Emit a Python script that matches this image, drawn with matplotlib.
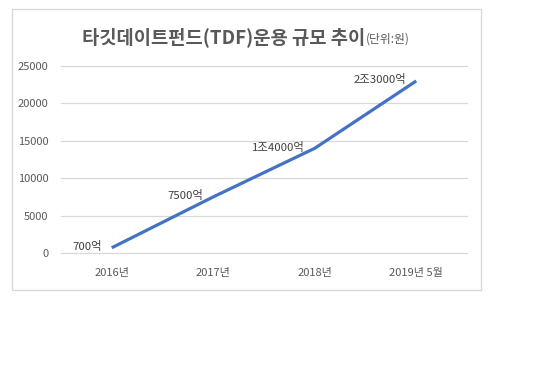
import matplotlib.pyplot as plt
from matplotlib.patches import Rectangle

plt.rcParams['font.family'] = ['Noto Sans CJK KR', 'DejaVu Sans']

# data
categories = ['2016년', '2017년', '2018년', '2019년 5월']
values = [700, 7500, 14000, 23000]
point_labels = ['700억', '7500억', '1조4000억', '2조3000억']
yticks = [0, 5000, 10000, 15000, 20000, 25000]

W, H = 540, 392
fig = plt.figure(figsize=(W / 100, H / 100), dpi=100)

# outer chart frame
fig.patches.append(Rectangle((12 / W, 1 - 290 / H), (481 - 12) / W, (290 - 9) / H,
                             transform=fig.transFigure, fill=False,
                             edgecolor='#d9d9d9', lw=1.0))

ax = fig.add_axes([61 / W, 1 - 253 / H, (467 - 61) / W, (253 - 66) / H])
x = list(range(len(categories)))
ax.plot(x, values, color='#4472c4', lw=2.3, solid_capstyle='butt', zorder=3)

for xi, v, lab in zip(x, values, point_labels):
    ax.annotate(lab, (xi, v), xytext=(-10, 1), textcoords='offset pixels',
                ha='right', va='center', fontsize=8.2, color='#404040')

ax.set_xlim(-0.5, 3.5)
ax.set_ylim(0, 25000)
ax.set_yticks(yticks)
ax.set_xticks(x)
ax.set_xticklabels(categories)
ax.tick_params(axis='both', length=0, labelsize=8, colors='#595959')
ax.tick_params(axis='x', pad=11)
ax.tick_params(axis='y', pad=9)
ax.grid(axis='y', color='#d9d9d9', lw=0.9)
for gl in ax.get_ygridlines():
    gl.set_clip_on(False)
ax.set_axisbelow(True)
for s in ax.spines.values():
    s.set_visible(False)

# title in two parts
fig.text(365 / W, 1 - 43 / H, '타깃데이트펀드(TDF)운용 규모 추이', ha='right', va='baseline',
         fontsize=13.5, fontweight='bold', color='#595959')
fig.text(366 / W, 1 - 43 / H, '(단위:원)', ha='left', va='baseline',
         fontsize=8.5, color='#595959')

fig.savefig('out.png', dpi=100)
